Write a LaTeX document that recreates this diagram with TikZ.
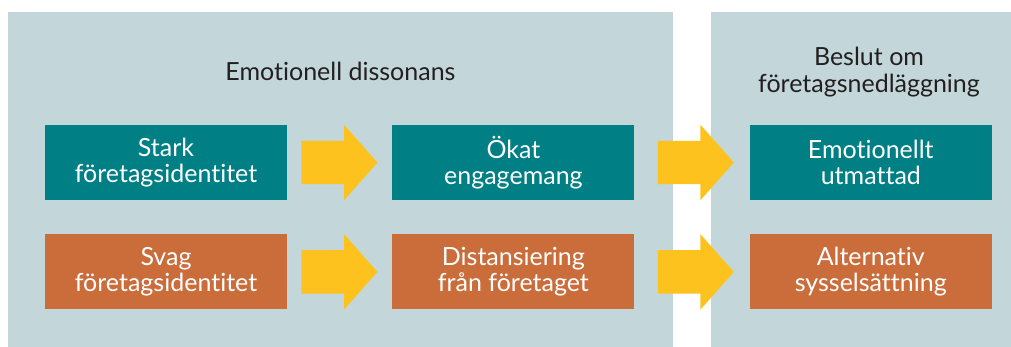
\documentclass[tikz,border=0pt]{standalone}
\usepackage{fontspec}
\setmainfont{Lato}[Ligatures=NoCommon]
\usetikzlibrary{positioning,calc,shapes.arrows}
\definecolor{panelgray}{RGB}{195,214,218}
\definecolor{idteal}{RGB}{0,127,132}
\definecolor{idorange}{RGB}{203,109,59}
\definecolor{flowyellow}{RGB}{253,194,30}
\definecolor{inkdark}{RGB}{35,31,32}

\begin{document}
\begin{tikzpicture}[x=1pt,y=-1pt,
    idbox/.style={minimum width=242pt,minimum height=75pt,inner sep=0pt,
      align=center,text=white,font=\fontsize{25}{26}\selectfont},
    tealbox/.style={idbox,fill=idteal},
    orangebox/.style={idbox,fill=idorange},
    heading/.style={align=center,text=inkdark,font=\fontsize{25}{27}\selectfont},
    flow/.style={single arrow,fill=flowyellow,inner xsep=0pt,inner ysep=21.5pt,
      minimum height=76pt,single arrow head extend=16pt,single arrow tip angle=97,
      anchor=tail}]
  \useasboundingbox (0,0) rectangle (1011,347);
  % the two background panels
  \fill[panelgray] (8,12) rectangle (673,347);
  \fill[panelgray] (711,12) rectangle (1011,347);
  \node[heading] (dissonans) at (340.5,71.5) {Emotionell dissonans};
  \node[heading] (beslut) at (869,72) {Beslut om\\företagsnedläggning};
  % strong identity row
  \node[tealbox] (stark) at (166,162.5) {Stark\\företagsidentitet};
  \node[tealbox,right=105pt of stark] (okat) {Ökat\\engagemang};
  \node[tealbox,right=115pt of okat] (utmattad) {Emotionellt\\utmattad};
  % weak identity row
  \node[orangebox,below=34pt of stark] (svag) {Svag\\företagsidentitet};
  \node[orangebox,below=34pt of okat] (distans) {Distansiering\\från företaget};
  \node[orangebox,below=34pt of utmattad] (alternativ) {Alternativ\\sysselsättning};
  % yellow flow arrows, tail set off from the box on its left
  \node[flow,right=14pt of stark] (f1) {};
  \node[flow,right=14pt of svag] (f2) {};
  \node[flow,right=23pt of okat] (f3) {};
  \node[flow,right=23pt of distans] (f4) {};
\end{tikzpicture}
\end{document}
